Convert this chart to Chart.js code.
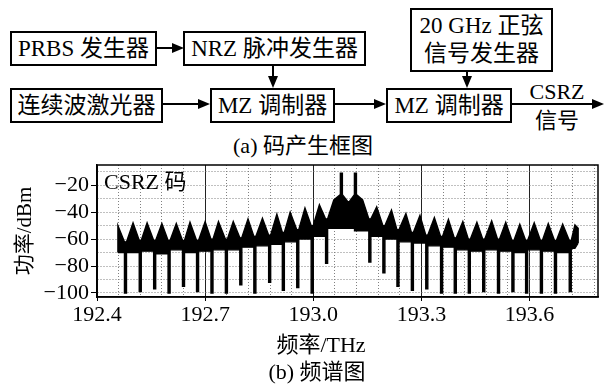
<!DOCTYPE html>
<html><head><meta charset="utf-8">
<script src="https://cdn.jsdelivr.net/npm/chart.js@4/dist/chart.umd.min.js"></script>
<style>
html,body{margin:0;padding:0;background:#fff;}
body{width:606px;height:386px;position:relative;overflow:hidden;font-family:"Liberation Serif","Noto Sans CJK SC",serif;color:#000;}
.box{position:absolute;border:2px solid #000;box-sizing:border-box;display:flex;align-items:center;justify-content:center;font-size:23px;line-height:1.2;text-align:center;white-space:nowrap;}
.t{position:absolute;font-size:22px;white-space:nowrap;line-height:1;transform:translate(-50%,-50%);}
#chartWrap{position:absolute;left:0;top:160px;width:606px;height:196px;}
</style></head><body>
<svg width="606" height="160" style="position:absolute;left:0;top:0" xmlns="http://www.w3.org/2000/svg">
 <g stroke="#000" stroke-width="2" fill="none">
  <line x1="157" y1="48" x2="174" y2="48"/>
  <line x1="273" y1="66" x2="273" y2="78"/>
  <line x1="467" y1="72" x2="467" y2="78"/>
  <line x1="163" y1="104" x2="200" y2="104"/>
  <line x1="335" y1="104" x2="376" y2="104"/>
  <line x1="512" y1="104" x2="594" y2="104"/>
 </g>
 <g fill="#000">
  <polygon points="184,48 172,43 172,53"/>
  <polygon points="273,88 268,76 278,76"/>
  <polygon points="467,88 462,76 472,76"/>
  <polygon points="210,104 198,99 198,109"/>
  <polygon points="386,104 374,99 374,109"/>
  <polygon points="604,104 592,99 592,109"/>
 </g>
</svg>
<div class="box" style="left:10px;top:31px;width:147px;height:35px;">PRBS 发生器</div>
<div class="box" style="left:183px;top:31px;width:183px;height:35px;">NRZ 脉冲发生器</div>
<div class="box" style="left:410px;top:8px;width:143px;height:64px;">20 GHz 正弦<br>信号发生器</div>
<div class="box" style="left:10px;top:88px;width:153px;height:35px;">连续波激光器</div>
<div class="box" style="left:210px;top:88px;width:125px;height:35px;">MZ 调制器</div>
<div class="box" style="left:386px;top:88px;width:126px;height:35px;">MZ 调制器</div>
<div class="t" style="left:557px;top:92px;">CSRZ</div>
<div class="t" style="left:557px;top:121px;">信号</div>
<div class="t" style="left:303px;top:146px;">(a) 码产生框图</div>

<div id="chartWrap"><canvas id="c" width="606" height="196"></canvas></div>
<div class="t" style="left:104px;top:182px;transform:translate(0,-50%);">CSRZ 码</div>
<div class="t" style="left:321px;top:345px;">频率/THz</div>
<div class="t" style="left:317px;top:372px;">(b) 频谱图</div>

<script>
// ---- axis ticks ----
const xTickValues = [192.4, 192.7, 193.0, 193.3, 193.6];
const xTickLabels = ['192.4', '192.7', '193.0', '193.3', '193.6'];
const yTickValues = [-100, -80, -60, -40, -20];
const yTickLabels = ['\u2212100', '\u221280', '\u221260', '\u221240', '\u221220'];

// ---- spectrum (THz, dBm) ----
const startFreq = 192.458, startDb = -50, startBandDb = -70;
const endFreq = 193.735, endTopDb = -52, endBandDb = -63;

// lobe tops
const peakFreq = [192.500, 192.539, 192.580, 192.620, 192.658, 192.700, 192.737, 192.778,
  192.819, 192.859, 192.899, 192.936, 192.977, 193.017, 193.057, 193.098,
  193.137, 193.176, 193.217, 193.257, 193.296, 193.336, 193.375, 193.415,
  193.454, 193.495, 193.534, 193.573, 193.613, 193.652, 193.692, 193.726];
const peakDb = [-48, -48, -48.5, -48.5, -47.5, -47, -47, -47,
  -45, -44.5, -41.5, -40, -37, -34.5, -31, -33,
  -31, -36, -38.5, -41, -42.5, -44, -45.5, -47,
  -47.5, -46.5, -47.5, -49, -48, -48.5, -49, -49.5];
// lower edge of the dark band under each lobe
const bandDb = [-70, -69, -71, -68, -70, -69, -68, -68,
  -66, -65, -64, -62, -60, -58, -52, -52,
  -54, -58, -60, -62, -63, -65, -66, -68,
  -69, -68, -69, -70, -68, -69, -70, -67];
// notches (nulls) between lobes; two carrier tones at 193.078 / 193.117
const notchFreq = [192.479, 192.520, 192.560, 192.600, 192.640, 192.679, 192.719, 192.759,
  192.799, 192.838, 192.879, 192.917, 192.957, 192.997, 193.037, 193.078,
  193.117, 193.157, 193.196, 193.235, 193.275, 193.315, 193.356, 193.394,
  193.433, 193.473, 193.514, 193.554, 193.592, 193.633, 193.672, 193.713];
const notchDb = [-100, -99, -97, -100, -95, -99, -100, -100,
  -94, -100, -92, -98, -96, -100, -78, -11,
  -11, -77, -85, -95, -98, -97, -100, -100,
  -100, -99, -100, -99, -100, -100, -100, -99];
// upper envelope level beside each notch
const valleyDb = [-62, -61, -61, -61, -61, -61, -60, -60,
  -59, -58, -57, -55, -53, -50, -45, -27,
  -27, -45, -50, -53, -55, -57, -58, -59,
  -60, -60, -60, -61, -61, -61, -61, -61];

// ---- build the two envelope lines from the read values ----
const halfBar = 0.0028;
const topLine = [{x: startFreq, y: startBandDb}, {x: startFreq, y: startDb}];
const bottomLine = [{x: startFreq, y: startBandDb}, {x: startFreq, y: startBandDb}];
for (let i = 0; i < notchFreq.length; i++) {
  const lb = i === 0 ? startBandDb : bandDb[i - 1];
  const rb = bandDb[i];
  const a = notchFreq[i] - halfBar, b = notchFreq[i] + halfBar;
  const deep = notchDb[i] < valleyDb[i];
  const barBase = deep ? valleyDb[i] : Math.min(lb, rb);
  topLine.push({x: a, y: valleyDb[i]}, {x: a, y: notchDb[i]}, {x: b, y: notchDb[i]}, {x: b, y: valleyDb[i]}, {x: peakFreq[i], y: peakDb[i]});
  bottomLine.push({x: a, y: lb}, {x: a, y: barBase}, {x: b, y: barBase}, {x: b, y: rb}, {x: peakFreq[i], y: rb});
}
topLine.push({x: endFreq, y: endTopDb}, {x: endFreq, y: endBandDb});
bottomLine.push({x: endFreq, y: endBandDb}, {x: endFreq, y: endBandDb});

// ---- grid positions ----
const xGrid = [];
for (let i = 0; i <= 23; i++) xGrid.push(+(192.4 + 0.06 * i).toFixed(2));
const yGrid = [-100, -90, -80, -70, -60, -50, -40, -30, -20, -10];

const isXMajor = v => xTickValues.some(m => Math.abs(m - v) < 1e-6);
const isYMajor = v => yTickValues.some(m => Math.abs(m - v) < 1e-6);
const FONT = '"Liberation Serif","Noto Sans CJK SC",serif';

const framePlugin = {
  id: 'frame',
  afterDraw(chart) {
    const {ctx, chartArea: a} = chart;
    ctx.save();
    ctx.strokeStyle = '#000';
    ctx.lineWidth = 1.5;
    ctx.strokeRect(a.left, a.top, a.right - a.left, a.bottom - a.top);
    ctx.restore();
  }
};

new Chart(document.getElementById('c'), {
  type: 'line',
  data: {
    datasets: [
      {data: topLine, borderColor: '#000', backgroundColor: '#000', borderWidth: 1.4, pointRadius: 0, fill: '+1', tension: 0},
      {data: bottomLine, borderColor: '#000', backgroundColor: '#000', borderWidth: 1.2, pointRadius: 0, fill: false, tension: 0}
    ]
  },
  options: {
    responsive: false,
    devicePixelRatio: 1,
    animation: false,
    layout: {padding: {top: 5, right: 8, left: 0, bottom: 0}},
    plugins: {legend: {display: false}, tooltip: {enabled: false}},
    scales: {
      x: {
        type: 'linear', min: 192.4, max: 193.79,
        afterBuildTicks: s => { s.ticks = xGrid.map(v => ({value: v})); },
        afterFit: s => { s.height = 59; s.paddingLeft = 0; s.paddingRight = 0; },
        ticks: {
          autoSkip: false, maxRotation: 0, padding: 1, color: '#000',
          font: {family: FONT, size: 22},
          callback: v => { const i = xTickValues.findIndex(m => Math.abs(m - v) < 1e-6); return i >= 0 ? xTickLabels[i] : ''; }
        },
        grid: {
          color: c => (c.tick && isXMajor(c.tick.value)) ? '#222' : '#808080',
          lineWidth: 1,
          tickLength: 4,
          tickColor: c => (c.tick && isXMajor(c.tick.value)) ? '#000' : 'rgba(0,0,0,0)'
        },
        border: {color: '#000', width: 1.5, dash: c => (c.tick && !isXMajor(c.tick.value)) ? [1, 2] : []}
      },
      y: {
        type: 'linear', min: -103, max: -5,
        afterBuildTicks: s => { s.ticks = yGrid.map(v => ({value: v})); },
        afterFit: s => { s.width = 97; s.paddingTop = 0; s.paddingBottom = 0; },
        ticks: {
          autoSkip: false, padding: 2, color: '#000',
          font: {family: FONT, size: 22},
          callback: v => { const i = yTickValues.findIndex(m => Math.abs(m - v) < 1e-6); return i >= 0 ? yTickLabels[i] : ''; }
        },
        grid: {
          color: '#808080',
          lineWidth: 1,
          tickLength: 6,
          tickColor: c => (c.tick && isYMajor(c.tick.value)) ? '#000' : 'rgba(0,0,0,0)'
        },
        border: {color: '#000', width: 1.5, dash: c => c.tick ? [1, 2] : []},
        title: {display: true, text: '功率/dBm', color: '#000', font: {family: FONT, size: 21}, padding: {top: 13, bottom: 0}}
      }
    }
  },
  plugins: [framePlugin]
});
</script>
</body></html>
